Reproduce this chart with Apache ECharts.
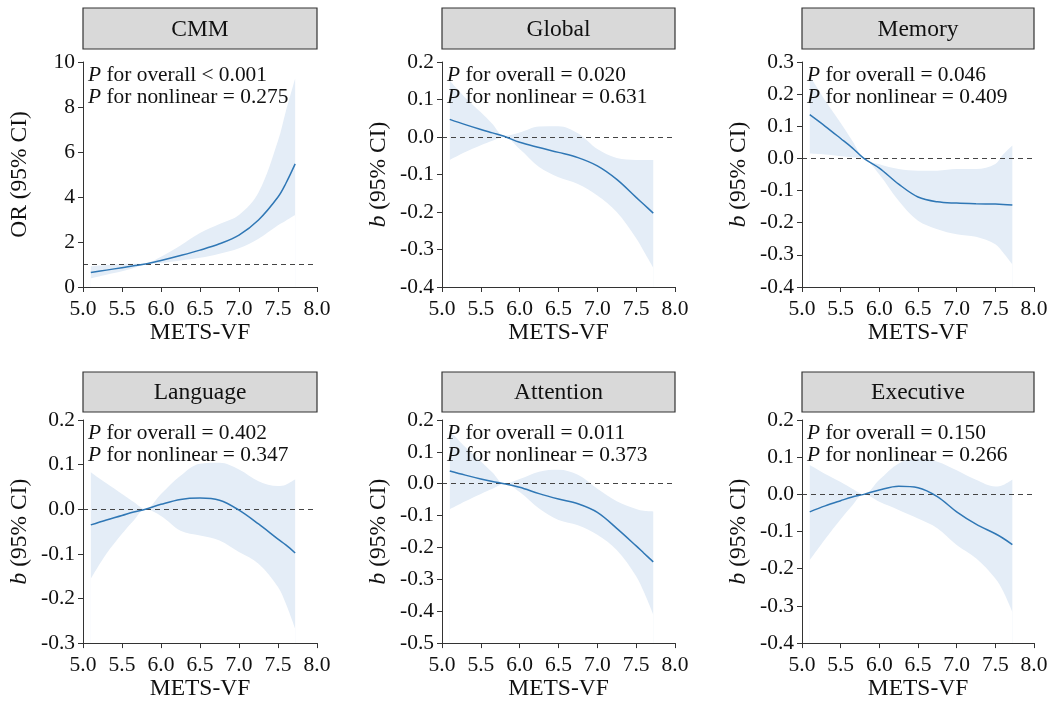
<!DOCTYPE html>
<html>
<head>
<meta charset="utf-8">
<script src="https://cdn.jsdelivr.net/npm/echarts@6/dist/echarts.min.js"></script>
<style>
html,body{margin:0;padding:0;background:#fff;}
#c{width:1051px;height:702px;}
</style>
</head>
<body>
<div id="c"></div>
<script>
// ---- data ----
const xVals = [5.1, 5.3, 5.5, 5.65, 5.8, 6.0, 6.25, 6.5, 6.75, 7.0, 7.25, 7.5, 7.6, 7.72];

const titles = ['CMM', 'Global', 'Memory', 'Language', 'Attention', 'Executive'];
const pOverall = ['< 0.001', '= 0.020', '= 0.046', '= 0.402', '= 0.011', '= 0.150'];
const pNonlinear = ['= 0.275', '= 0.631', '= 0.409', '= 0.347', '= 0.373', '= 0.266'];
const yNames = ['OR (95% CI)', '{i|b} (95% CI)', '{i|b} (95% CI)', '{i|b} (95% CI)', '{i|b} (95% CI)', '{i|b} (95% CI)'];
const yMins = [0, -0.4, -0.4, -0.3, -0.5, -0.4];
const yMaxs = [10, 0.2, 0.3, 0.2, 0.2, 0.2];
const yIntervals = [2, 0.1, 0.1, 0.1, 0.1, 0.1];
const refLines = [1, 0, 0, 0, 0, 0];

const cmmFit = [0.64, 0.75, 0.86, 0.94, 1.02, 1.18, 1.40, 1.64, 1.92, 2.31, 2.98, 4.0, 4.6, 5.47];
const cmmLow = [0.39, 0.55, 0.70, 0.85, 1.0, 1.07, 1.18, 1.30, 1.48, 1.72, 2.15, 2.75, 2.95, 3.2];
const cmmUp  = [0.92, 0.98, 1.02, 1.03, 1.05, 1.35, 1.85, 2.4, 2.8, 3.2, 4.2, 6.5, 7.8, 9.27];

const globalFit = [0.047, 0.033, 0.02, 0.011, 0.002, -0.014, -0.028, -0.041, -0.055, -0.077, -0.113, -0.161, -0.18, -0.203];
const globalLow = [-0.061, -0.04, -0.022, -0.01, 0.0, -0.032, -0.08, -0.107, -0.125, -0.156, -0.2, -0.27, -0.305, -0.348];
const globalUp  = [0.151, 0.105, 0.066, 0.035, 0.003, 0.012, 0.028, 0.029, 0.01, -0.032, -0.056, -0.061, -0.061, -0.061];

const memoryFit = [0.136, 0.1, 0.062, 0.033, 0.0, -0.03, -0.08, -0.12, -0.135, -0.139, -0.141, -0.142, -0.143, -0.145];
const memoryLow = [0.015, 0.012, 0.007, 0.004, 0.0, -0.05, -0.132, -0.194, -0.22, -0.236, -0.244, -0.267, -0.293, -0.33];
const memoryUp  = [0.258, 0.18, 0.11, 0.055, 0.0, -0.018, -0.033, -0.038, -0.038, -0.033, -0.033, -0.017, 0.012, 0.04];

const languageFit = [-0.035, -0.024, -0.014, -0.006, 0.0, 0.011, 0.022, 0.025, 0.02, -0.002, -0.033, -0.067, -0.08, -0.098];
const languageLow = [-0.156, -0.1, -0.055, -0.025, 0.0, -0.015, -0.048, -0.059, -0.07, -0.096, -0.122, -0.174, -0.211, -0.267];
const languageUp  = [0.083, 0.058, 0.034, 0.016, 0.0, 0.034, 0.075, 0.102, 0.104, 0.089, 0.063, 0.052, 0.055, 0.067];

const attentionFit = [0.04, 0.027, 0.015, 0.007, 0.0, -0.011, -0.031, -0.048, -0.063, -0.09, -0.14, -0.195, -0.218, -0.245];
const attentionLow = [-0.08, -0.055, -0.032, -0.016, 0.0, -0.026, -0.078, -0.114, -0.13, -0.16, -0.208, -0.29, -0.34, -0.41];
const attentionUp  = [0.166, 0.115, 0.07, 0.035, 0.0, 0.015, 0.038, 0.044, 0.028, -0.016, -0.055, -0.079, -0.085, -0.087];

const executiveFit = [-0.047, -0.031, -0.017, -0.007, 0.0, 0.012, 0.022, 0.018, -0.006, -0.047, -0.08, -0.106, -0.118, -0.135];
const executiveLow = [-0.177, -0.12, -0.067, -0.03, 0.0, -0.02, -0.042, -0.065, -0.091, -0.136, -0.172, -0.226, -0.26, -0.316];
const executiveUp  = [0.079, 0.055, 0.033, 0.015, 0.0, 0.039, 0.083, 0.099, 0.088, 0.065, 0.039, 0.021, 0.025, 0.04];

const fits = [cmmFit, globalFit, memoryFit, languageFit, attentionFit, executiveFit];
const lows = [cmmLow, globalLow, memoryLow, languageLow, attentionLow, executiveLow];
const ups  = [cmmUp, globalUp, memoryUp, languageUp, attentionUp, executiveUp];

// ---- layout ----
const FONT = '"Liberation Serif", "Times New Roman", serif';
const colLeft = [83, 442, 802];
const colWidth = [234, 233, 232];
const rowTop = [62, 420];
const rowHeight = [225, 224];
const boxTop = [8, 372];
const boxHeight = [41, 40];
const LINE_COLOR = '#2f77b5';
const BAND_COLOR = '#e4edf7';
const AXIS_COLOR = '#333';
const TEXT_COLOR = '#111';
const SMOOTH = 0.35;

function fmt1(v) { if (Math.abs(v) < 1e-9) v = 0; return v.toFixed(1); }

const grid = [], xAxis = [], yAxis = [], series = [], title = [], graphic = [];
for (let i = 0; i < 6; i++) {
  const r = Math.floor(i / 3), c = i % 3;
  grid.push({ left: colLeft[c], top: rowTop[r], width: colWidth[c], height: rowHeight[r], containLabel: false });
  xAxis.push({
    gridIndex: i, type: 'value', min: 5, max: 8, interval: 0.5, z: 10,
    name: 'METS-VF', nameLocation: 'middle', nameGap: 31,
    nameTextStyle: { fontFamily: FONT, fontSize: 23.5, color: TEXT_COLOR },
    axisLine: { onZero: false, lineStyle: { color: AXIS_COLOR, width: 1 } },
    axisTick: { show: true, length: 5, lineStyle: { color: AXIS_COLOR } },
    axisLabel: { fontFamily: FONT, fontSize: 21.5, color: TEXT_COLOR, margin: 11, formatter: fmt1, showMinLabel: true, showMaxLabel: true },
    splitLine: { show: false }
  });
  yAxis.push({
    gridIndex: i, type: 'value', min: yMins[i], max: yMaxs[i], interval: yIntervals[i], z: 10,
    name: yNames[i], nameLocation: 'middle', nameGap: 51,
    nameTextStyle: { fontFamily: FONT, fontSize: 23.5, color: TEXT_COLOR,
      rich: { i: { fontFamily: FONT, fontSize: 23.5, fontStyle: 'italic', color: TEXT_COLOR } } },
    axisLine: { show: true, onZero: false, lineStyle: { color: AXIS_COLOR, width: 1 } },
    axisTick: { show: true, length: 5, lineStyle: { color: AXIS_COLOR } },
    axisLabel: { fontFamily: FONT, fontSize: 21.5, color: TEXT_COLOR, margin: 8,
      formatter: i === 0 ? (v => String(Math.round(v))) : fmt1, showMinLabel: true, showMaxLabel: true },
    splitLine: { show: false }
  });
  const upData = xVals.map((x, k) => [x, ups[i][k]]);
  const lowData = xVals.map((x, k) => [x, lows[i][k]]);
  const fitData = xVals.map((x, k) => [x, fits[i][k]]);
  // upper bound: band colour filled down to axis minimum
  series.push({
    type: 'line', xAxisIndex: i, yAxisIndex: i, data: upData, smooth: SMOOTH, symbol: 'none',
    lineStyle: { width: 0, opacity: 0 }, areaStyle: { color: BAND_COLOR, opacity: 1, origin: 'start' },
    silent: true, z: 1
  });
  // lower bound: white mask filled down to axis minimum
  series.push({
    type: 'line', xAxisIndex: i, yAxisIndex: i, data: lowData, smooth: SMOOTH, symbol: 'none',
    lineStyle: { width: 0, opacity: 0 }, areaStyle: { color: '#ffffff', opacity: 1, origin: 'start' },
    silent: true, z: 2
  });
  series.push({
    type: 'line', xAxisIndex: i, yAxisIndex: i, data: fitData, smooth: SMOOTH, symbol: 'none',
    lineStyle: { color: LINE_COLOR, width: 1.5 }, z: 4,
    markLine: {
      silent: true, symbol: 'none', label: { show: false }, z: 3,
      lineStyle: { color: '#444', width: 1.1, type: [5, 4] },
      data: [{ yAxis: refLines[i] }]
    }
  });
  title.push({
    left: colLeft[c] + 5, top: rowTop[r] + 2, padding: 0,
    text: '{i|P} for overall ' + pOverall[i] + '\n{i|P} for nonlinear ' + pNonlinear[i],
    textStyle: { fontFamily: FONT, fontSize: 21.4, fontWeight: 'normal', color: TEXT_COLOR, lineHeight: 22,
      rich: { i: { fontFamily: FONT, fontSize: 21.4, fontStyle: 'italic', color: TEXT_COLOR, lineHeight: 22 } } }
  });
  graphic.push({
    type: 'rect', shape: { x: colLeft[c], y: boxTop[r], width: colWidth[c], height: boxHeight[r] },
    style: { fill: '#d9d9d9', stroke: '#333', lineWidth: 1.2 }, z: 10
  });
  graphic.push({
    type: 'text', x: colLeft[c] + colWidth[c] / 2, y: boxTop[r] + boxHeight[r] / 2 + 1,
    style: { text: titles[i], fontFamily: FONT, fontSize: 23.5, fill: TEXT_COLOR,
      align: 'center', verticalAlign: 'middle', textAlign: 'center', textVerticalAlign: 'middle' }, z: 11
  });
}

const chart = echarts.init(document.getElementById('c'), null, { renderer: 'canvas' });
chart.setOption({
  animation: false,
  backgroundColor: '#fff',
  title, grid, xAxis, yAxis, series, graphic
});
</script>
</body>
</html>
